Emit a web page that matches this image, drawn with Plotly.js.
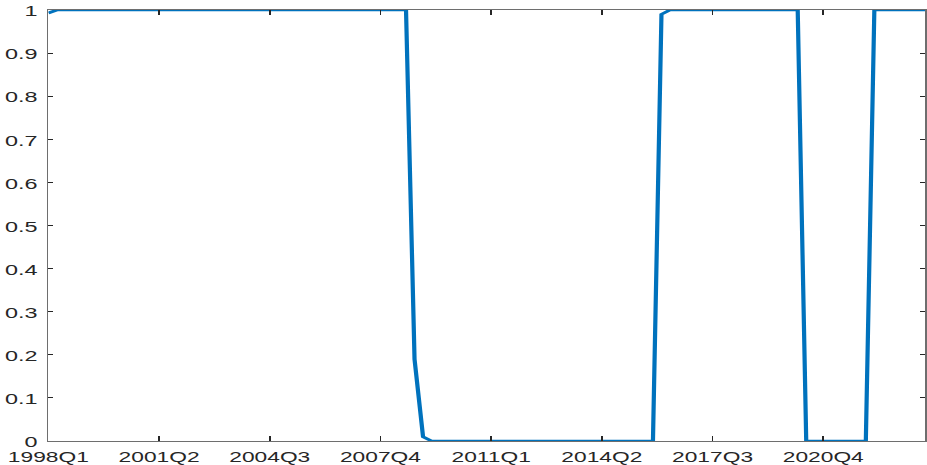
<!DOCTYPE html>
<html>
<head>
<meta charset="utf-8">
<script src="https://cdn.plot.ly/plotly-3.0.1.min.js"></script>
<style>
html, body { margin: 0; padding: 0; background: #ffffff; overflow: hidden; width: 927px; height: 465px; }
#chart { width: 594px; height: 465px; transform: scaleX(1.5606); transform-origin: 0 0; }
</style>
</head>
<body>
<div id="chart"></div>
<script>
// Quarter labels 1998Q1 .. 2023Q4
var startYear = 1998;
var quarters = [];
for (var y = startYear; y <= 2023; y++) {
  for (var q = 1; q <= 4; q++) { quarters.push(y + 'Q' + q); }
}

// Probability series, one value per quarter
var probability = [
  0.993, 1, 1, 1, 1, 1, 1, 1, 1, 1,
  1, 1, 1, 1, 1, 1, 1, 1, 1, 1,
  1, 1, 1, 1, 1, 1, 1, 1, 1, 1,
  1, 1, 1, 1, 1, 1, 1, 1, 1, 1,
  1, 1, 1, 0.19, 0.01, 0, 0, 0, 0, 0,
  0, 0, 0, 0, 0, 0, 0, 0, 0, 0,
  0, 0, 0, 0, 0, 0, 0, 0, 0, 0,
  0, 0, 0.99, 1, 1, 1, 1, 1, 1, 1,
  1, 1, 1, 1, 1, 1, 1, 1, 1, 0,
  0, 0, 0, 0, 0, 0, 0, 1, 1, 1,
  1, 1, 1, 1
];

var xTickLabels = ['1998Q1', '2001Q2', '2004Q3', '2007Q4', '2011Q1', '2014Q2', '2017Q3', '2020Q4'];
var yTickValues = [0, 0.1, 0.2, 0.3, 0.4, 0.5, 0.6, 0.7, 0.8, 0.9, 1];
var yTickLabels = ['0', '0.1', '0.2', '0.3', '0.4', '0.5', '0.6', '0.7', '0.8', '0.9', '1'];

var trace = {
  x: quarters,
  y: probability,
  type: 'scatter',
  mode: 'lines',
  line: { color: '#0072BD', width: 2.7 },
  hoverinfo: 'skip'
};

var fontFamily = '"Liberation Sans", Arial, Helvetica, sans-serif';
var xFont = { family: fontFamily, size: 14.6, color: '#262626' };
var yFont = { family: fontFamily, size: 15, color: '#262626' };

var layout = {
  width: 594,
  height: 465,
  margin: { l: 31, r: 1, t: 10, b: 24, pad: 0 },
  paper_bgcolor: '#ffffff',
  plot_bgcolor: '#ffffff',
  showlegend: false,
  font: yFont,
  xaxis: {
    type: 'category',
    range: [0, quarters.length - 1],
    tickmode: 'array',
    tickvals: xTickLabels,
    ticktext: xTickLabels,
    ticks: 'inside',
    ticklen: 5,
    tickwidth: 1,
    tickcolor: '#262626',
    showline: true,
    linecolor: '#6e6e6e',
    linewidth: 1,
    mirror: 'ticks',
    showgrid: false,
    zeroline: false,
    tickfont: xFont,
    ticklabelstandoff: 2,
    fixedrange: true
  },
  yaxis: {
    range: [0, 1],
    tickmode: 'array',
    tickvals: yTickValues,
    ticktext: yTickLabels,
    ticks: 'inside',
    ticklen: 3.2,
    tickwidth: 1,
    tickcolor: '#262626',
    showline: true,
    linecolor: '#6e6e6e',
    linewidth: 1,
    mirror: 'ticks',
    showgrid: false,
    zeroline: false,
    tickfont: yFont,
    ticklabelstandoff: 3,
    ticklabelshift: 1,
    fixedrange: true
  }
};

Plotly.newPlot('chart', [trace], layout, { displayModeBar: false, staticPlot: true });
</script>
</body>
</html>
